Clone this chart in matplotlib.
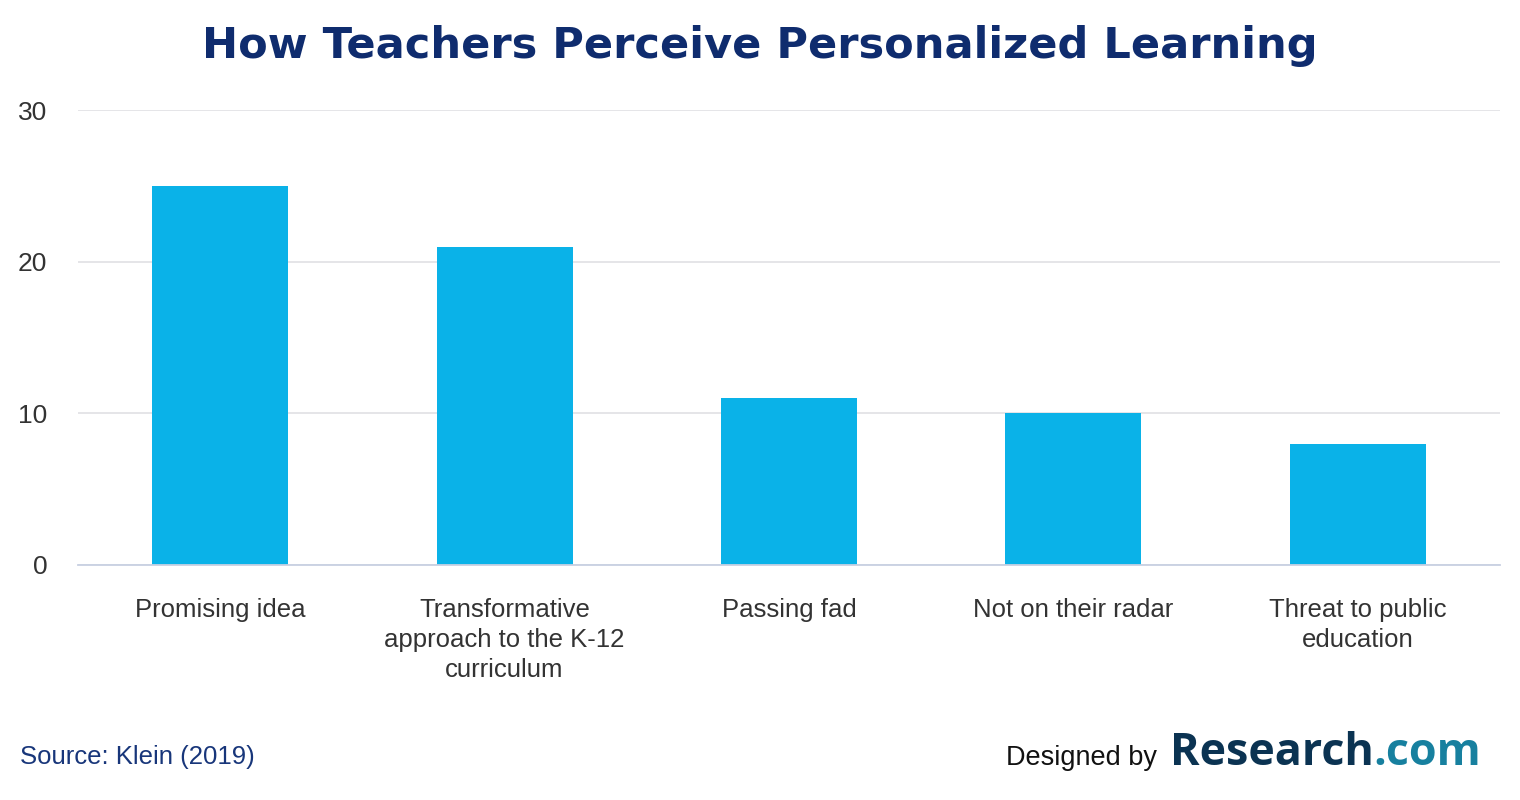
import matplotlib.pyplot as plt
import numpy as np

# chart data
categories = ["Promising idea",
              "Transformative\napproach to the K-12\ncurriculum",
              "Passing fad",
              "Not on their radar",
              "Threat to public\neducation"]
values = [25, 21, 11, 10, 8]
y_ticks = [0, 10, 20, 30]

TITLE = "How Teachers Perceive Personalized Learning"
SOURCE = "Source: Klein (2019)"


def fit_width(fig, txt, width_px):
    # scale a text's font size so it spans the given width
    r = fig.canvas.get_renderer()
    w = txt.get_window_extent(r).width
    txt.set_fontsize(txt.get_fontsize() * width_px / w)


def main():
    plt.rcParams['font.family'] = ['Liberation Sans', 'DejaVu Sans']

    fig = plt.figure(figsize=(15.2, 8), dpi=100)
    ax = fig.add_axes([0.0513, 0.29375, 0.9355, 0.56875])

    x = np.arange(len(categories))
    ax.bar(x, values, width=0.478, color='#0ab2e8', zorder=3)

    ax.set_xlim(-0.5, len(categories) - 0.5)
    ax.set_ylim(0, 30)
    ax.set_yticks(y_ticks)
    ax.set_xticks(x)
    ax.set_xticklabels(categories, fontsize=18.5, color='#333333', linespacing=1.3, va='top')
    ax.tick_params(axis='x', length=0, pad=24)
    ax.tick_params(axis='y', length=0, pad=22, labelsize=19, labelcolor='#333333')

    ax.grid(axis='y', color='#e3e3e6', linewidth=1.3, zorder=0)
    for s in ('top', 'right', 'left'):
        ax.spines[s].set_visible(False)
    ax.spines['bottom'].set_color('#c8d0e2')
    ax.spines['bottom'].set_linewidth(1.3)
    ax.spines['bottom'].set_zorder(4)

    fig.canvas.draw()
    renderer = fig.canvas.get_renderer()

    title = fig.text(0.5, 0.943, TITLE, ha='center', va='center', fontsize=30,
                     fontweight='bold', color='#0f2c6e', family=['DejaVu Sans'])
    fit_width(fig, title, 1115)

    fig.text(0.013, 0.0535, SOURCE, ha='left', va='center', fontsize=18.5, color='#18367a')

    fig.text(0.662, 0.052, "Designed by", ha='left', va='center', fontsize=19.5, color='#111111')

    # logo: "Research" dark + ".com" teal, fitted to its width in the reference
    logo_family = ['Open Sans', 'DejaVu Sans']
    logo_x = 1170 / 1520
    probe = fig.text(logo_x, 0.058, "Research.com", fontsize=33, fontweight='bold',
                     family=logo_family)
    logo_size = 33 * 312 / probe.get_window_extent(renderer).width
    probe.remove()

    t1 = fig.text(logo_x, 0.058, "Research", ha='left', va='center', fontsize=logo_size,
                  fontweight='bold', color='#0b3352', family=logo_family)
    bb = t1.get_window_extent(renderer)
    fig.text(bb.x1 / fig.bbox.width, 0.058, ".com", ha='left', va='center',
             fontsize=logo_size, fontweight='bold', color='#17809f', family=logo_family)

    fig.savefig('out.png', dpi=100, facecolor='white')


if __name__ == "__main__":
    main()
